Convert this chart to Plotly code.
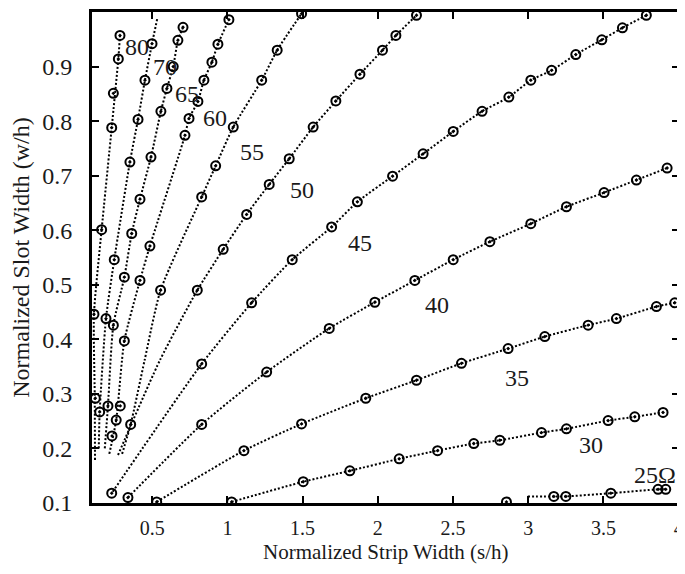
import plotly.graph_objects as go

# ---------------- data ----------------
# marker (data point) arrays per impedance curve, plus the fitted dotted line
c80_x = [0.286, 0.275, 0.242, 0.231, 0.164, 0.113, 0.122]
c80_y = [0.957, 0.914, 0.851, 0.788, 0.601, 0.446, 0.292]
c80_lx = [0.120, 0.118, 0.113, 0.164, 0.231, 0.275, 0.286]
c80_ly = [0.179, 0.300, 0.446, 0.601, 0.788, 0.914, 0.957]

c70_x = [0.499, 0.452, 0.406, 0.352, 0.248, 0.193, 0.151]
c70_y = [0.942, 0.875, 0.803, 0.725, 0.546, 0.438, 0.267]
c70_lx = [0.145, 0.151, 0.193, 0.248, 0.352, 0.406, 0.452, 0.499, 0.534]
c70_ly = [0.200, 0.267, 0.438, 0.546, 0.725, 0.803, 0.875, 0.942, 0.988]

c65_x = [0.705, 0.671, 0.640, 0.598, 0.558, 0.492, 0.419, 0.364, 0.315, 0.242, 0.206]
c65_y = [0.972, 0.948, 0.900, 0.860, 0.818, 0.734, 0.657, 0.594, 0.514, 0.426, 0.278]
c65_lx = [0.185, 0.206, 0.242, 0.315, 0.364, 0.419, 0.492, 0.558, 0.598, 0.640, 0.671, 0.705]
c65_ly = [0.200, 0.278, 0.426, 0.514, 0.594, 0.657, 0.734, 0.818, 0.860, 0.900, 0.948, 0.972]

c60_x = [1.010, 0.937, 0.897, 0.844, 0.804, 0.745, 0.718, 0.485, 0.419, 0.315, 0.261, 0.233, 0.288]
c60_y = [0.986, 0.941, 0.908, 0.875, 0.836, 0.805, 0.774, 0.571, 0.508, 0.397, 0.252, 0.223, 0.278]
c60_lx = [0.215, 0.261, 0.315, 0.419, 0.485, 0.718, 0.745, 0.804, 0.844, 0.897, 0.937, 1.010]
c60_ly = [0.190, 0.252, 0.397, 0.508, 0.571, 0.774, 0.805, 0.836, 0.875, 0.908, 0.941, 0.986]

c55_x = [1.493, 1.331, 1.228, 1.039, 0.922, 0.829, 0.556, 0.357]
c55_y = [0.997, 0.930, 0.875, 0.789, 0.718, 0.661, 0.490, 0.244]
c55_lx = [0.300, 0.357, 0.450, 0.556, 0.829, 0.922, 1.039, 1.228, 1.331, 1.493]
c55_ly = [0.190, 0.244, 0.362, 0.490, 0.661, 0.718, 0.789, 0.875, 0.930, 0.997]

c50_x = [2.257, 2.120, 2.031, 1.881, 1.721, 1.570, 1.411, 1.278, 1.128, 0.972, 0.800]
c50_y = [0.994, 0.957, 0.930, 0.886, 0.837, 0.789, 0.731, 0.684, 0.629, 0.565, 0.490]
c50_lx = [0.273, 0.552, 0.800, 0.972, 1.128, 1.278, 1.411, 1.570, 1.721, 1.881, 2.031, 2.120, 2.257]
c50_ly = [0.188, 0.362, 0.490, 0.565, 0.629, 0.684, 0.731, 0.789, 0.837, 0.886, 0.930, 0.957, 0.994]

c45_x = [3.785, 3.626, 3.489, 3.316, 3.155, 3.017, 2.871, 2.693, 2.501, 2.301, 2.098,
         1.864, 1.693, 1.431, 1.161, 0.829, 0.231]
c45_y = [0.994, 0.971, 0.949, 0.922, 0.893, 0.875, 0.844, 0.818, 0.781, 0.740, 0.699,
         0.652, 0.606, 0.546, 0.467, 0.355, 0.118]
c45_lx = c45_x
c45_ly = c45_y

c40_x = [0.339, 0.829, 1.261, 1.677, 1.980, 2.246, 2.501, 2.745, 3.017, 3.254, 3.504, 3.719, 3.923]
c40_y = [0.110, 0.244, 0.340, 0.420, 0.468, 0.508, 0.546, 0.579, 0.612, 0.643, 0.669, 0.692, 0.714]
c40_lx = c40_x
c40_ly = c40_y

c35_x = [0.530, 1.110, 1.493, 1.920, 2.257, 2.556, 2.866, 3.110, 3.398, 3.586, 3.852, 3.974]
c35_y = [0.102, 0.196, 0.245, 0.292, 0.325, 0.356, 0.383, 0.405, 0.426, 0.438, 0.460, 0.467]
c35_lx = c35_x
c35_ly = c35_y

c30_x = [1.028, 1.504, 1.814, 2.142, 2.397, 2.638, 2.811, 3.088, 3.254, 3.531, 3.708, 3.896]
c30_y = [0.102, 0.139, 0.159, 0.181, 0.196, 0.209, 0.215, 0.229, 0.236, 0.251, 0.258, 0.266]
c30_lx = c30_x
c30_ly = c30_y

c25_x = [2.855, 3.170, 3.250, 3.549, 3.863, 3.914]
c25_y = [0.102, 0.112, 0.112, 0.118, 0.125, 0.125]
c25_lx = [2.997, 3.170, 3.250, 3.549, 3.863, 3.914]
c25_ly = [0.112, 0.112, 0.112, 0.118, 0.125, 0.125]

curve_labels = ["80", "70", "65", "60", "55", "50", "45", "40", "35", "30", "25Ω"]
label_x = [0.397, 0.585, 0.729, 0.917, 1.161, 1.493, 1.881, 2.390, 2.922, 3.420, 3.841]
label_y = [0.935, 0.899, 0.850, 0.805, 0.743, 0.673, 0.576, 0.463, 0.329, 0.207, 0.151]

x_ticks = [0.5, 1, 1.5, 2, 2.5, 3, 3.5, 4]
x_ticktext = ["0.5", "1", "1.5", "2", "2.5", "3", "3.5", "4"]
y_ticks = [0.1, 0.2, 0.3, 0.4, 0.5, 0.6, 0.7, 0.8, 0.9]
y_ticktext = ["0.1", "0.2", "0.3", "0.4", "0.5", "0.6", "0.7", "0.8", "0.9"]

x_title = "Normalized Strip Width (s/h)"
y_title = "Normalized Slot Width (w/h)"

curves = [
    (c80_lx, c80_ly, c80_x, c80_y),
    (c70_lx, c70_ly, c70_x, c70_y),
    (c65_lx, c65_ly, c65_x, c65_y),
    (c60_lx, c60_ly, c60_x, c60_y),
    (c55_lx, c55_ly, c55_x, c55_y),
    (c50_lx, c50_ly, c50_x, c50_y),
    (c45_lx, c45_ly, c45_x, c45_y),
    (c40_lx, c40_ly, c40_x, c40_y),
    (c35_lx, c35_ly, c35_x, c35_y),
    (c30_lx, c30_ly, c30_x, c30_y),
    (c25_lx, c25_ly, c25_x, c25_y),
]

FONT = "Liberation Serif, Times New Roman, serif"
TXT = "#1a1a1a"

fig = go.Figure()
for lx, ly, mx, my in curves:
    fig.add_trace(go.Scatter(
        x=lx, y=ly, mode="lines",
        line=dict(color="black", width=2, dash="2px,2px", shape="spline", smoothing=0.6),
        hoverinfo="skip", showlegend=False))
    fig.add_trace(go.Scatter(
        x=mx, y=my, mode="markers",
        marker=dict(symbol="circle-open-dot", size=9, color="black", line=dict(width=2, color="black")),
        showlegend=False))

for t, x, y in zip(curve_labels, label_x, label_y):
    fig.add_annotation(x=x, y=y, text=t, showarrow=False,
                       font=dict(family=FONT, size=24, color=TXT),
                       xanchor="center", yanchor="middle")

# x-axis title placed just under the tick labels
fig.add_annotation(xref="paper", yref="paper", x=0.5, y=-0.099, text=x_title, showarrow=False,
                   font=dict(family=FONT, size=21, color=TXT), xanchor="center", yanchor="middle",
                   borderpad=0)

axis_common = dict(
    showgrid=False, zeroline=False, showline=True, linecolor="black", linewidth=3,
    mirror="ticks", ticks="inside", ticklen=7, tickwidth=2, tickcolor="black",
)

fig.update_xaxes(range=[0.1, 4.002], tickvals=x_ticks, ticktext=x_ticktext,
                 tickfont=dict(family=FONT, size=20, color=TXT),
                 ticklabelstandoff=5, **axis_common)
fig.update_yaxes(range=[0.1, 1.0], tickvals=y_ticks, ticktext=y_ticktext,
                 tickfont=dict(family=FONT, size=24, color=TXT),
                 title=dict(text=y_title, font=dict(family=FONT, size=24, color=TXT),
                            standoff=6),
                 ticklabelstandoff=12, **axis_common)

# the page body adds an 8px margin, so the figure is sized to fit the 685x574 window
fig.update_layout(
    width=677, height=558,
    margin=dict(l=84, r=6, t=1, b=63),
    paper_bgcolor="white", plot_bgcolor="white",
)

fig.write_html("out.html")
